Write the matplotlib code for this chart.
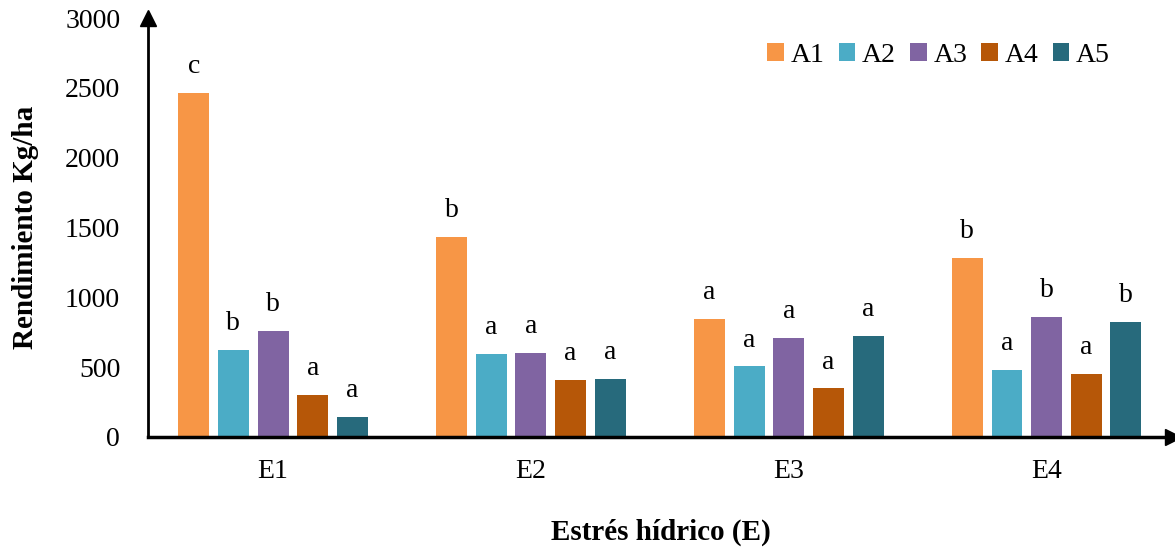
import matplotlib.pyplot as plt
import numpy as np

plt.rcParams['font.family'] = ['Liberation Serif', 'DejaVu Serif']

grupos = ["E1", "E2", "E3", "E4"]
series = ["A1", "A2", "A3", "A4", "A5"]
colores = ["#F79646", "#4BACC6", "#8064A2", "#B65708", "#276A7C"]

A1 = [2465, 1435, 845, 1285]
A2 = [625, 597, 505, 478]
A3 = [760, 600, 712, 862]
A4 = [302, 410, 348, 452]
A5 = [145, 415, 724, 826]
valores = [A1, A2, A3, A4, A5]

letras = [["c", "b", "a", "b"],
          ["b", "a", "a", "a"],
          ["b", "a", "a", "b"],
          ["a", "a", "a", "a"],
          ["a", "a", "a", "b"]]

fig = plt.figure(figsize=(11.75, 5.5), dpi=100)
ax = fig.add_axes([148/1175, 113/550, 1025/1175, 419/550])

x = np.arange(len(grupos))
paso = 0.1538
ancho = 0.12
for i, (s, v, c) in enumerate(zip(series, valores, colores)):
    pos = x + (i - 2) * paso
    ax.bar(pos, v, width=ancho, color=c, label=s)
    for px, py, l in zip(pos, v, letras[i]):
        ax.annotate(l, (px, py), xytext=(0, 10), textcoords="offset points",
                    ha="center", va="bottom", fontsize=20)

ax.set_xlim(-0.485, 3.49)
ax.set_ylim(0, 3000)
ax.set_yticks(np.arange(0, 3001, 500))
ax.set_xticks(x)
ax.set_xticklabels(grupos)
ax.tick_params(axis="both", length=0, labelsize=20)
ax.tick_params(axis="y", pad=20)
ax.tick_params(axis="x", pad=16)

for s in ["top", "right"]:
    ax.spines[s].set_visible(False)
ax.spines["left"].set_linewidth(2)
ax.spines["bottom"].set_linewidth(2.5)
ax.plot(1, 0, ">k", markersize=11, transform=ax.transAxes, clip_on=False)
ax.plot(0, 1, "^k", markersize=11, transform=ax.transAxes, clip_on=False)

ax.set_ylabel("Rendimiento Kg/ha", fontsize=21, fontweight="bold", labelpad=19)
ax.set_xlabel("Estrés hídrico (E)", fontsize=21, fontweight="bold", labelpad=25)

ax.legend(loc="upper right", bbox_to_anchor=(0.963, 1.0), ncol=5, frameon=False,
          fontsize=20, handlelength=0.6, handleheight=0.6, handletextpad=0.25,
          columnspacing=0.5)

plt.savefig("out.png", dpi=100)
